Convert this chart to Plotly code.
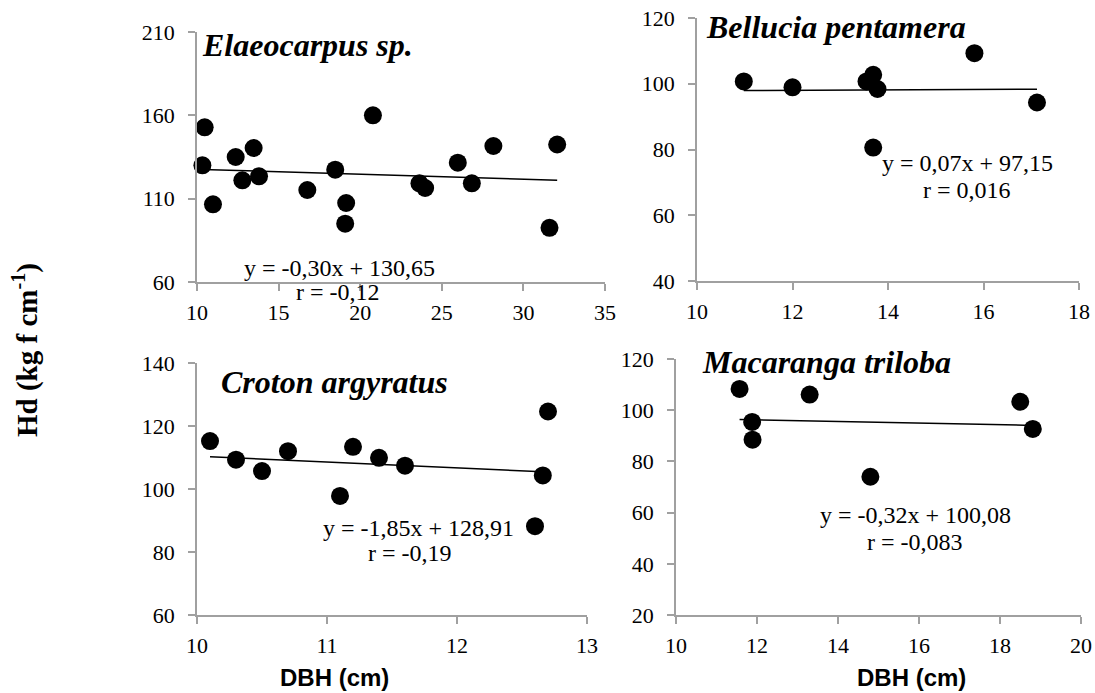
import plotly.graph_objects as go

# ---- data ----
species = ["Elaeocarpus sp.", "Bellucia pentamera", "Croton argyratus", "Macaranga triloba"]

elaeo_dbh = [10.47, 10.33, 10.98, 12.37, 12.78, 13.47, 13.8, 16.76, 18.47, 19.14, 19.08,
             20.78, 23.63, 23.98, 25.98, 26.84, 28.16, 32.07, 31.6]
elaeo_hd = [152.8, 130.0, 106.6, 135.0, 121.0, 140.4, 123.4, 115.2, 127.4, 107.4, 95.0,
            160.0, 119.2, 116.4, 131.6, 119.2, 141.6, 142.5, 92.5]

bell_dbh = [10.98, 12.0, 13.55, 13.69, 13.78, 13.69, 15.81, 17.12]
bell_hd = [100.7, 98.9, 100.7, 102.7, 98.4, 80.6, 109.3, 94.3]

croton_dbh = [10.1, 10.3, 10.5, 10.7, 11.1, 11.2, 11.4, 11.6, 12.7, 12.66, 12.6]
croton_hd = [115.2, 109.3, 105.7, 112.0, 97.8, 113.4, 109.9, 107.4, 124.6, 104.3, 88.2]

maca_dbh = [11.57, 11.88, 11.89, 13.3, 14.8, 18.5, 18.81]
maca_hd = [108.3, 95.4, 88.5, 106.1, 74.0, 103.3, 92.7]

slopes = [-0.30, 0.07, -1.85, -0.32]
intercepts = [130.65, 97.15, 128.91, 100.08]
eq_texts = ["y = -0,30x + 130,65", "y = 0,07x + 97,15", "y = -1,85x + 128,91", "y = -0,32x + 100,08"]
r_texts = ["r = -0,12", "r = 0,016", "r = -0,19", "r = -0,083"]

x_ranges = [[10, 35], [10, 18], [10, 13], [10, 20]]
x_dticks = [5, 2, 1, 2]
y_ranges = [[60, 210], [40, 120], [60, 140], [20, 120]]
y_dticks = [50, 20, 20, 20]

xs = [elaeo_dbh, bell_dbh, croton_dbh, maca_dbh]
ys = [elaeo_hd, bell_hd, croton_hd, maca_hd]

# ---- layout geometry (page pixels) ----
W, H = 1095, 693
px_x = [(197, 605), (697, 1079), (197, 587), (676, 1081)]
px_y = [(32, 282), (18, 281), (363, 615), (359, 615)]

def fx(p):
    return p / W

def fy(p):
    return 1 - p / H

serif = "Liberation Serif, Times New Roman, serif"
sans = "Liberation Sans, Arial, sans-serif"
axis_grey = "#a0a0a0"

fig = go.Figure()
layout = dict(
    template="none",
    width=W, height=H, margin=dict(l=0, r=0, t=0, b=0, pad=0),
    paper_bgcolor="white", plot_bgcolor="white", showlegend=False,
    font=dict(family=serif, color="black"),
)

def common():
    return dict(showgrid=False, zeroline=False, showline=True, linecolor=axis_grey,
                linewidth=1.5, ticks="outside", tickcolor=axis_grey, ticklen=7,
                tickwidth=1.5, automargin=False, ticklabeloverflow="allow",
                tickfont=dict(family=serif, size=22, color="black"))

for i in range(4):
    n = "" if i == 0 else str(i + 1)
    xa, ya = "x" + n, "y" + n
    fig.add_trace(go.Scatter(
        x=xs[i], y=ys[i], mode="markers", xaxis=xa, yaxis=ya,
        marker=dict(color="black", size=18, line=dict(width=0)), cliponaxis=False,
    ))
    x0, x1 = min(xs[i]), max(xs[i])
    fig.add_trace(go.Scatter(
        x=[x0, x1], y=[slopes[i] * x0 + intercepts[i], slopes[i] * x1 + intercepts[i]],
        mode="lines", xaxis=xa, yaxis=ya, line=dict(color="black", width=1.5),
        cliponaxis=False,
    ))
    layout["xaxis" + n] = dict(domain=[fx(px_x[i][0]), fx(px_x[i][1])], anchor=ya,
                               range=x_ranges[i], dtick=x_dticks[i], tick0=x_ranges[i][0],
                               ticklabelstandoff=3, **common())
    layout["yaxis" + n] = dict(domain=[fy(px_y[i][1]), fy(px_y[i][0])], anchor=xa,
                               range=y_ranges[i], dtick=y_dticks[i], tick0=y_ranges[i][0],
                               ticklabelstandoff=9, **common())

fig.update_layout(**layout)

# species titles (left x, center y in px)
title_pos = [(200, 45), (704, 27), (219, 382), (700, 362)]
for i, (tx, ty) in enumerate(title_pos):
    fig.add_annotation(text="<b><i>" + species[i] + "</i></b>", xref="paper", yref="paper",
                       x=fx(tx), y=fy(ty), xanchor="left", yanchor="middle", showarrow=False,
                       font=dict(family=serif, size=32, color="black"))

# equation annotations (center px)
eq_pos = [(339, 268), (967, 163), (418, 528), (915, 515)]
r_pos = [(338, 292), (967, 190), (410, 553), (915, 542)]
for i in range(4):
    fig.add_annotation(text=eq_texts[i], xref="paper", yref="paper",
                       x=fx(eq_pos[i][0]), y=fy(eq_pos[i][1]), xanchor="center", yanchor="middle",
                       showarrow=False, font=dict(family=serif, size=24, color="black"))
    fig.add_annotation(text=r_texts[i], xref="paper", yref="paper",
                       x=fx(r_pos[i][0]), y=fy(r_pos[i][1]), xanchor="center", yanchor="middle",
                       showarrow=False, font=dict(family=serif, size=24, color="black"))

# axis titles
for cx in (334, 911):
    fig.add_annotation(text="<b>DBH (cm)</b>", xref="paper", yref="paper",
                       x=fx(cx), y=fy(677), xanchor="center", yanchor="middle", showarrow=False,
                       font=dict(family=sans, size=24, color="black"))
fig.add_annotation(text="<b>Hd (kg f cm<sup>-1</sup>)</b>", xref="paper", yref="paper",
                   x=fx(25), y=fy(350), xanchor="center", yanchor="middle", showarrow=False,
                   textangle=-90, font=dict(family=serif, size=29, color="black"))

fig.write_html("out.html", config={"displayModeBar": False},
               post_script="document.body.style.margin='0';document.body.style.overflow='hidden';")
